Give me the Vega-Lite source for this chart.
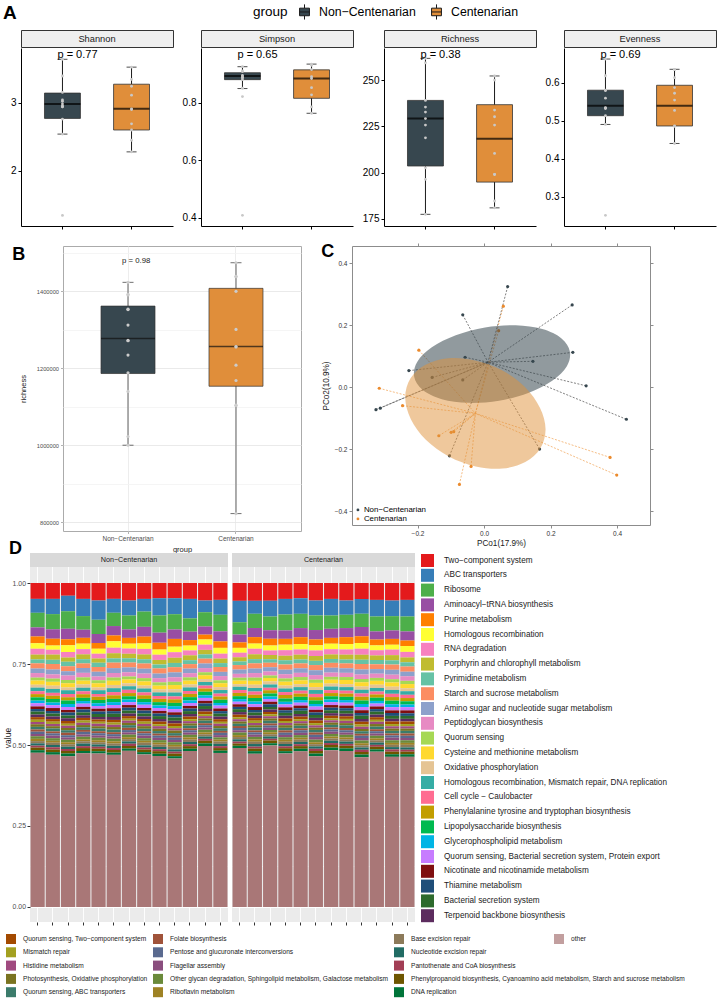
{
"$schema": "https://vega.github.io/schema/vega-lite/v6.json",
"background": "white",
"padding": {"left": 2, "top": 3, "right": 0, "bottom": 0},
"config": {"view": {"stroke": null}, "font": "Liberation Sans", "axis": {"labelFont": "Liberation Sans", "titleFont": "Liberation Sans"}, "legend": {"labelFont": "Liberation Sans", "titleFont": "Liberation Sans", "padding": 0}, "title": {"font": "Liberation Sans"}},
"datasets": {
"boxA": [
{"m":"Shannon","g":"Non−Centenarian","lo":2.54,"q1":2.77,"md":2.98,"q3":3.14,"hi":3.635},
{"m":"Shannon","g":"Centenarian","lo":2.28,"q1":2.6,"md":2.91,"q3":3.27,"hi":3.52},
{"m":"Simpson","g":"Non−Centenarian","lo":0.849,"q1":0.88,"md":0.893,"q3":0.904,"hi":0.925},
{"m":"Simpson","g":"Centenarian","lo":0.763,"q1":0.815,"md":0.884,"q3":0.914,"hi":0.934},
{"m":"Richness","g":"Non−Centenarian","lo":177.5,"q1":203.6,"md":229.2,"q3":239,"hi":261.7},
{"m":"Richness","g":"Centenarian","lo":181,"q1":194.9,"md":218.3,"q3":236.7,"hi":252.2},
{"m":"Evenness","g":"Non−Centenarian","lo":0.49,"q1":0.513,"md":0.539,"q3":0.58,"hi":0.662},
{"m":"Evenness","g":"Centenarian","lo":0.44,"q1":0.486,"md":0.539,"q3":0.593,"hi":0.635}
],
"ptsA": [
{"m":"Shannon","g":"Non−Centenarian","v":3.635},{"m":"Shannon","g":"Non−Centenarian","v":3.39},{"m":"Shannon","g":"Non−Centenarian","v":3.15},{"m":"Shannon","g":"Non−Centenarian","v":3.04},{"m":"Shannon","g":"Non−Centenarian","v":3.02},{"m":"Shannon","g":"Non−Centenarian","v":2.94},{"m":"Shannon","g":"Non−Centenarian","v":2.94},{"m":"Shannon","g":"Non−Centenarian","v":2.95},{"m":"Shannon","g":"Non−Centenarian","v":2.76},{"m":"Shannon","g":"Non−Centenarian","v":2.54},{"m":"Shannon","g":"Non−Centenarian","v":1.35},{"m":"Shannon","g":"Non−Centenarian","v":2.98},
{"m":"Shannon","g":"Centenarian","v":3.52},{"m":"Shannon","g":"Centenarian","v":3.34},{"m":"Shannon","g":"Centenarian","v":3.24},{"m":"Shannon","g":"Centenarian","v":3.11},{"m":"Shannon","g":"Centenarian","v":2.91},{"m":"Shannon","g":"Centenarian","v":2.9},{"m":"Shannon","g":"Centenarian","v":2.69},{"m":"Shannon","g":"Centenarian","v":2.6},{"m":"Shannon","g":"Centenarian","v":2.45},{"m":"Shannon","g":"Centenarian","v":2.28},
{"m":"Simpson","g":"Non−Centenarian","v":0.925},{"m":"Simpson","g":"Non−Centenarian","v":0.91},{"m":"Simpson","g":"Non−Centenarian","v":0.908},{"m":"Simpson","g":"Non−Centenarian","v":0.895},{"m":"Simpson","g":"Non−Centenarian","v":0.89},{"m":"Simpson","g":"Non−Centenarian","v":0.888},{"m":"Simpson","g":"Non−Centenarian","v":0.886},{"m":"Simpson","g":"Non−Centenarian","v":0.88},{"m":"Simpson","g":"Non−Centenarian","v":0.85},{"m":"Simpson","g":"Non−Centenarian","v":0.821},{"m":"Simpson","g":"Non−Centenarian","v":0.408},
{"m":"Simpson","g":"Centenarian","v":0.934},{"m":"Simpson","g":"Centenarian","v":0.93},{"m":"Simpson","g":"Centenarian","v":0.915},{"m":"Simpson","g":"Centenarian","v":0.89},{"m":"Simpson","g":"Centenarian","v":0.884},{"m":"Simpson","g":"Centenarian","v":0.852},{"m":"Simpson","g":"Centenarian","v":0.827},{"m":"Simpson","g":"Centenarian","v":0.785},{"m":"Simpson","g":"Centenarian","v":0.763},
{"m":"Richness","g":"Non−Centenarian","v":261.7},{"m":"Richness","g":"Non−Centenarian","v":259.3},{"m":"Richness","g":"Non−Centenarian","v":239},{"m":"Richness","g":"Non−Centenarian","v":235.4},{"m":"Richness","g":"Non−Centenarian","v":232.7},{"m":"Richness","g":"Non−Centenarian","v":229.2},{"m":"Richness","g":"Non−Centenarian","v":225.7},{"m":"Richness","g":"Non−Centenarian","v":218.8},{"m":"Richness","g":"Non−Centenarian","v":202.6},{"m":"Richness","g":"Non−Centenarian","v":196.4},{"m":"Richness","g":"Non−Centenarian","v":177.5},
{"m":"Richness","g":"Centenarian","v":252.2},{"m":"Richness","g":"Centenarian","v":250},{"m":"Richness","g":"Centenarian","v":233.8},{"m":"Richness","g":"Centenarian","v":230.2},{"m":"Richness","g":"Centenarian","v":225.7},{"m":"Richness","g":"Centenarian","v":210.4},{"m":"Richness","g":"Centenarian","v":199.1},{"m":"Richness","g":"Centenarian","v":199},{"m":"Richness","g":"Centenarian","v":184.7},{"m":"Richness","g":"Centenarian","v":181},
{"m":"Evenness","g":"Non−Centenarian","v":0.662},{"m":"Evenness","g":"Non−Centenarian","v":0.618},{"m":"Evenness","g":"Non−Centenarian","v":0.58},{"m":"Evenness","g":"Non−Centenarian","v":0.579},{"m":"Evenness","g":"Non−Centenarian","v":0.559},{"m":"Evenness","g":"Non−Centenarian","v":0.533},{"m":"Evenness","g":"Non−Centenarian","v":0.534},{"m":"Evenness","g":"Non−Centenarian","v":0.532},{"m":"Evenness","g":"Non−Centenarian","v":0.513},{"m":"Evenness","g":"Non−Centenarian","v":0.49},{"m":"Evenness","g":"Non−Centenarian","v":0.251},
{"m":"Evenness","g":"Centenarian","v":0.635},{"m":"Evenness","g":"Centenarian","v":0.634},{"m":"Evenness","g":"Centenarian","v":0.613},{"m":"Evenness","g":"Centenarian","v":0.587},{"m":"Evenness","g":"Centenarian","v":0.572},{"m":"Evenness","g":"Centenarian","v":0.554},{"m":"Evenness","g":"Centenarian","v":0.527},{"m":"Evenness","g":"Centenarian","v":0.486},{"m":"Evenness","g":"Centenarian","v":0.485},{"m":"Evenness","g":"Centenarian","v":0.44}
],
"pA": [
{"m":"Shannon","g":"Non−Centenarian","y":3.7,"t":"p = 0.77"},
{"m":"Simpson","g":"Non−Centenarian","y":0.966,"t":"p = 0.65"},
{"m":"Richness","g":"Non−Centenarian","y":263.5,"t":"p = 0.38"},
{"m":"Evenness","g":"Non−Centenarian","y":0.672,"t":"p = 0.69"}
],
"boxB": [
{"g":"Non−Centenarian","lo":1000000,"q1":1186000,"md":1277000,"q3":1361000,"hi":1422600},
{"g":"Centenarian","lo":822600,"q1":1153000,"md":1256000,"q3":1407000,"hi":1473500}
],
"ptsB": [
{"g":"Non−Centenarian","v":1422600},{"g":"Non−Centenarian","v":1391400},{"g":"Non−Centenarian","v":1390000},{"g":"Non−Centenarian","v":1353000},{"g":"Non−Centenarian","v":1352000},{"g":"Non−Centenarian","v":1311700},{"g":"Non−Centenarian","v":1272000},{"g":"Non−Centenarian","v":1271000},{"g":"Non−Centenarian","v":1233800},{"g":"Non−Centenarian","v":1188000},{"g":"Non−Centenarian","v":1139500},{"g":"Non−Centenarian","v":1022600},{"g":"Non−Centenarian","v":1000000},
{"g":"Centenarian","v":1473500},{"g":"Centenarian","v":1438200},{"g":"Centenarian","v":1437000},{"g":"Centenarian","v":1399200},{"g":"Centenarian","v":1300500},{"g":"Centenarian","v":1256000},{"g":"Centenarian","v":1255000},{"g":"Centenarian","v":1207800},{"g":"Centenarian","v":1168000},{"g":"Centenarian","v":1104000},{"g":"Centenarian","v":1103000},{"g":"Centenarian","v":822600}
],
"pB": [{"g":"Non−Centenarian","y":1478000,"t":"p = 0.98"}],
"pcoa": [
{"g":"Non−Centenarian","x":-0.064,"y":0.234,"cx":0.012,"cy":0.081},
{"g":"Non−Centenarian","x":-0.057,"y":0.097,"cx":0.012,"cy":0.081},
{"g":"Non−Centenarian","x":-0.226,"y":0.054,"cx":0.012,"cy":0.081},
{"g":"Non−Centenarian","x":-0.156,"y":0.032,"cx":0.012,"cy":0.081},
{"g":"Non−Centenarian","x":-0.064,"y":0.024,"cx":0.012,"cy":0.081},
{"g":"Non−Centenarian","x":0.071,"y":0.325,"cx":0.012,"cy":0.081},
{"g":"Non−Centenarian","x":0.265,"y":0.266,"cx":0.012,"cy":0.081},
{"g":"Non−Centenarian","x":0.267,"y":0.113,"cx":0.012,"cy":0.081},
{"g":"Non−Centenarian","x":0.147,"y":0.084,"cx":0.012,"cy":0.081},
{"g":"Non−Centenarian","x":0.307,"y":0.005,"cx":0.012,"cy":0.081},
{"g":"Non−Centenarian","x":-0.325,"y":-0.072,"cx":0.012,"cy":0.081},
{"g":"Non−Centenarian","x":-0.312,"y":-0.067,"cx":0.012,"cy":0.081},
{"g":"Non−Centenarian","x":0.428,"y":-0.103,"cx":0.012,"cy":0.081},
{"g":"Non−Centenarian","x":0.167,"y":-0.199,"cx":0.012,"cy":0.081},
{"g":"Non−Centenarian","x":-0.104,"y":-0.221,"cx":0.012,"cy":0.081},
{"g":"Centenarian","x":0.058,"y":0.262,"cx":-0.026,"cy":-0.084},
{"g":"Centenarian","x":0.044,"y":0.183,"cx":-0.026,"cy":-0.084},
{"g":"Centenarian","x":-0.196,"y":0.12,"cx":-0.026,"cy":-0.084},
{"g":"Centenarian","x":-0.315,"y":-0.003,"cx":-0.026,"cy":-0.084},
{"g":"Centenarian","x":-0.245,"y":-0.059,"cx":-0.026,"cy":-0.084},
{"g":"Centenarian","x":-0.136,"y":-0.156,"cx":-0.026,"cy":-0.084},
{"g":"Centenarian","x":-0.099,"y":-0.145,"cx":-0.026,"cy":-0.084},
{"g":"Centenarian","x":-0.091,"y":-0.143,"cx":-0.026,"cy":-0.084},
{"g":"Centenarian","x":-0.039,"y":-0.255,"cx":-0.026,"cy":-0.084},
{"g":"Centenarian","x":-0.074,"y":-0.313,"cx":-0.026,"cy":-0.084},
{"g":"Centenarian","x":0.379,"y":-0.226,"cx":-0.026,"cy":-0.084},
{"g":"Centenarian","x":0.399,"y":-0.283,"cx":-0.026,"cy":-0.084}
],
"ell": [
{"g":"Non−Centenarian","i":1,"x":0.258,"y":0.116},{"g":"Non−Centenarian","i":2,"x":0.233,"y":0.158},{"g":"Non−Centenarian","i":3,"x":0.175,"y":0.188},{"g":"Non−Centenarian","i":4,"x":0.095,"y":0.2},{"g":"Non−Centenarian","i":5,"x":0.003,"y":0.193},{"g":"Non−Centenarian","i":6,"x":-0.085,"y":0.168},{"g":"Non−Centenarian","i":7,"x":-0.157,"y":0.129},{"g":"Non−Centenarian","i":8,"x":-0.201,"y":0.082},{"g":"Non−Centenarian","i":9,"x":-0.21,"y":0.034},{"g":"Non−Centenarian","i":10,"x":-0.185,"y":-0.008},{"g":"Non−Centenarian","i":11,"x":-0.127,"y":-0.038},{"g":"Non−Centenarian","i":12,"x":-0.047,"y":-0.05},{"g":"Non−Centenarian","i":13,"x":0.045,"y":-0.043},{"g":"Non−Centenarian","i":14,"x":0.133,"y":-0.018},{"g":"Non−Centenarian","i":15,"x":0.205,"y":0.021},{"g":"Non−Centenarian","i":16,"x":0.249,"y":0.068},
{"g":"Centenarian","i":1,"x":0.169,"y":-0.197},{"g":"Centenarian","i":2,"x":0.185,"y":-0.135},{"g":"Centenarian","i":3,"x":0.168,"y":-0.066},{"g":"Centenarian","i":4,"x":0.123,"y":0.001},{"g":"Centenarian","i":5,"x":0.054,"y":0.055},{"g":"Centenarian","i":6,"x":-0.027,"y":0.087},{"g":"Centenarian","i":7,"x":-0.107,"y":0.094},{"g":"Centenarian","i":8,"x":-0.176,"y":0.073},{"g":"Centenarian","i":9,"x":-0.221,"y":0.029},{"g":"Centenarian","i":10,"x":-0.237,"y":-0.033},{"g":"Centenarian","i":11,"x":-0.22,"y":-0.103},{"g":"Centenarian","i":12,"x":-0.175,"y":-0.169},{"g":"Centenarian","i":13,"x":-0.106,"y":-0.223},{"g":"Centenarian","i":14,"x":-0.025,"y":-0.255},{"g":"Centenarian","i":15,"x":0.055,"y":-0.262},{"g":"Centenarian","i":16,"x":0.124,"y":-0.241}
],
"cats": [
{"k":1,"name":"Two−component system"},{"k":2,"name":"ABC transporters"},{"k":3,"name":"Ribosome"},{"k":4,"name":"Aminoacyl−tRNA biosynthesis"},{"k":5,"name":"Purine metabolism"},{"k":6,"name":"Homologous recombination"},{"k":7,"name":"RNA degradation"},{"k":8,"name":"Porphyrin and chlorophyll metabolism"},{"k":9,"name":"Pyrimidine metabolism"},{"k":10,"name":"Starch and sucrose metabolism"},{"k":11,"name":"Amino sugar and nucleotide sugar metabolism"},{"k":12,"name":"Peptidoglycan biosynthesis"},{"k":13,"name":"Quorum sensing"},{"k":14,"name":"Cysteine and methionine metabolism"},{"k":15,"name":"Oxidative phosphorylation"},{"k":16,"name":"Homologous recombination, Mismatch repair, DNA replication"},{"k":17,"name":"Cell cycle − Caulobacter"},{"k":18,"name":"Phenylalanine tyrosine and tryptophan biosynthesis"},{"k":19,"name":"Lipopolysaccharide biosynthesis"},{"k":20,"name":"Glycerophospholipid metabolism"},{"k":21,"name":"Quorum sensing, Bacterial secretion system, Protein export"},{"k":22,"name":"Nicotinate and nicotinamide metabolism"},{"k":23,"name":"Thiamine metabolism"},{"k":24,"name":"Bacterial secretion system"},{"k":25,"name":"Terpenoid backbone biosynthesis"},{"k":26,"name":"Quorum sensing, Two−component system"},{"k":27,"name":"Mismatch repair"},{"k":28,"name":"Histidine metabolism"},{"k":29,"name":"Photosynthesis, Oxidative phosphorylation"},{"k":30,"name":"Quorum sensing, ABC transporters"},{"k":31,"name":"Folate biosynthesis"},{"k":32,"name":"Pentose and glucuronate interconversions"},{"k":33,"name":"Flagellar assembly"},{"k":34,"name":"Other glycan degradation, Sphingolipid metabolism, Galactose metabolism"},{"k":35,"name":"Riboflavin metabolism"},{"k":36,"name":"Base excision repair"},{"k":37,"name":"Nucleotide excision repair"},{"k":38,"name":"Pantothenate and CoA biosynthesis"},{"k":39,"name":"Phenylpropanoid biosynthesis, Cyanoamino acid metabolism, Starch and sucrose metabolism"},{"k":40,"name":"DNA replication"},{"k":41,"name":"other"}
],
"dbars": [
{"s":"N01","group":"Non−Centenarian","v":[49,43,45,28,21,17,18,15,12,16,14,14,9,13,9,11,9,10,10,8,10,8,8,9,8,8,7,7,8,8,7,7,7,8,7,7,7,6,8,8,476]},
{"s":"N02","group":"Non−Centenarian","v":[49,47,47,29,21,13,15,16,13,17,15,13,10,12,10,12,9,10,11,8,9,9,8,9,8,8,7,7,7,9,6,7,8,8,6,7,7,7,8,8,470]},
{"s":"N03","group":"Non−Centenarian","v":[39,48,54,33,18,21,17,13,14,16,13,14,10,13,8,12,10,10,11,9,9,8,9,9,8,9,6,7,7,8,7,7,7,8,6,8,7,6,8,8,466]},
{"s":"N04","group":"Non−Centenarian","v":[49,53,42,25,18,17,16,15,13,14,15,14,10,12,10,11,9,11,10,8,10,8,9,9,8,8,7,7,7,8,6,8,7,8,6,7,8,6,9,7,474]},
{"s":"N05","group":"Non−Centenarian","v":[54,59,44,28,18,15,15,13,13,15,14,12,9,13,9,11,9,10,10,8,9,8,8,9,8,7,6,8,7,8,6,7,7,8,6,7,7,6,8,7,473]},
{"s":"N06","group":"Non−Centenarian","v":[49,43,41,29,18,20,17,16,13,17,15,14,10,13,10,12,10,11,10,9,10,9,8,10,9,8,7,7,8,8,6,7,7,8,7,7,7,6,8,7,470]},
{"s":"N07","group":"Non−Centenarian","v":[54,46,43,26,18,15,16,14,13,15,15,13,9,12,9,11,10,10,10,8,9,8,9,9,8,8,6,7,7,8,7,7,7,8,6,7,7,7,8,7,481]},
{"s":"N08","group":"Non−Centenarian","v":[49,39,47,30,21,17,17,15,13,16,15,14,10,13,9,12,9,11,10,8,10,8,9,9,8,8,7,7,8,8,6,7,8,8,6,8,7,6,8,7,470]},
{"s":"N09","group":"Non−Centenarian","v":[47,53,53,31,21,16,16,14,12,16,14,13,10,12,9,11,9,10,10,8,9,8,8,9,8,8,6,8,7,8,6,7,7,8,6,7,7,6,8,7,465]},
{"s":"N10","group":"Non−Centenarian","v":[47,49,47,29,24,17,17,16,13,16,15,14,10,13,10,12,9,11,10,9,10,8,8,10,8,8,7,7,8,8,6,7,7,8,6,8,7,6,8,7,457]},
{"s":"N11","group":"Non−Centenarian","v":[49,60,41,26,17,15,15,15,12,14,14,13,10,12,9,11,9,10,10,8,9,8,8,9,8,8,6,7,7,8,6,7,7,8,7,7,7,6,8,7,481]},
{"s":"N12","group":"Non−Centenarian","v":[54,36,44,25,15,16,16,14,13,15,14,13,9,12,9,11,9,10,11,8,9,8,8,9,8,8,6,7,7,8,6,7,7,8,6,7,7,6,8,8,496]},
{"s":"N13","group":"Non−Centenarian","v":[52,46,51,31,20,18,15,14,12,15,13,13,9,12,9,11,9,10,10,8,9,8,8,9,8,8,6,7,7,8,6,7,7,7,6,7,7,6,8,7,475]},
{"s":"C01","group":"Centenarian","v":[55,66,38,24,17,15,14,13,11,14,13,12,9,11,8,10,9,10,9,8,8,8,7,9,8,8,6,7,7,7,6,7,7,8,6,7,7,6,7,7,490]},
{"s":"C02","group":"Centenarian","v":[55,40,44,28,20,16,17,15,13,16,14,14,10,12,10,11,10,10,11,8,9,9,8,9,8,8,7,7,7,9,6,7,7,8,7,7,8,6,8,8,473]},
{"s":"C03","group":"Centenarian","v":[55,48,43,26,21,15,14,13,11,14,13,12,8,11,9,10,8,10,9,8,8,8,8,8,8,7,6,7,7,8,6,7,7,7,6,7,7,6,8,7,498]},
{"s":"C04","group":"Centenarian","v":[49,48,49,26,18,17,17,14,13,16,14,13,10,12,9,11,9,11,10,8,9,9,8,9,8,8,6,7,8,8,7,7,7,8,6,7,7,6,9,7,473]},
{"s":"C05","group":"Centenarian","v":[47,48,44,28,21,17,16,15,12,15,14,13,10,12,9,11,9,10,10,8,9,8,8,10,8,8,6,7,7,8,6,8,7,8,6,7,7,6,8,8,480]},
{"s":"C06","group":"Centenarian","v":[54,46,45,29,18,16,17,15,13,16,15,14,10,13,9,12,10,10,11,8,10,8,8,9,8,8,7,7,7,8,7,7,8,8,6,7,7,7,8,8,465]},
{"s":"C07","group":"Centenarian","v":[49,51,41,28,18,17,16,14,12,15,15,13,9,12,9,11,9,10,10,8,9,8,8,9,8,8,6,7,7,8,6,7,7,8,6,7,7,6,8,8,483]},
{"s":"C08","group":"Centenarian","v":[54,44,41,28,21,17,16,15,12,15,14,13,9,13,9,11,9,10,10,8,9,8,8,9,8,8,6,7,7,8,7,7,7,8,6,7,7,6,8,8,481]},
{"s":"C09","group":"Centenarian","v":[49,46,41,28,21,18,18,16,13,17,15,14,10,13,10,12,10,11,11,9,10,9,8,10,9,8,7,7,7,8,6,7,8,8,6,7,7,7,8,8,462]},
{"s":"C10","group":"Centenarian","v":[52,51,46,25,18,15,16,14,13,15,14,13,9,12,10,11,9,10,10,8,9,8,8,9,8,8,6,7,8,8,6,7,7,8,6,7,7,6,8,7,478]},
{"s":"C11","group":"Centenarian","v":[54,48,44,26,18,15,17,16,13,16,15,14,10,13,10,12,10,11,11,9,10,8,9,9,8,8,7,7,7,8,6,7,8,8,6,7,7,7,8,8,462]},
{"s":"C12","group":"Centenarian","v":[52,51,46,28,17,18,17,15,13,16,14,14,10,13,9,11,10,10,10,8,10,9,8,9,8,8,7,7,7,8,7,7,7,8,6,8,7,6,8,8,462]}
]
},
"title": {"text": "A", "anchor": "start", "fontSize": 19, "fontWeight": "bold", "color": "#000000", "offset": -20, "dx": 1},
"resolve": {"scale": {"color": "independent", "fill": "independent", "shape": "independent"}, "legend": {"color": "independent", "fill": "independent", "shape": "independent"}},
"spacing": 12,
"vconcat": [
{"spacing": 0, "hconcat": [
{"width": 8, "height": 1, "data": {"values": []}, "mark": {"type": "point", "opacity": 0}},
{
"spacing": 8,
"hconcat": [
{"spacing": 0, "vconcat": [
 {"width": 152, "height": 17, "view": {"fill": "#EFEFEF", "stroke": "#333333", "strokeWidth": 1}, "data": {"values": [{"t": "Shannon"}]}, "mark": {"type": "text", "fontSize": 9.3, "color": "#1A1A1A"}, "encoding": {"text": {"field": "t", "type": "nominal"}}},
 {"width": 152, "height": 178, "layer": [
  {"data": {"name": "boxA"}, "transform": [{"filter": "datum.m === 'Shannon'"}], "mark": {"type": "rule", "color": "#000000", "strokeWidth": 0.9},
   "encoding": {"x": {"field": "g", "type": "nominal", "scale": {"domain": ["Non−Centenarian", "Centenarian"], "paddingInner": 0, "paddingOuter": 0.1}, "axis": {"title": null, "labels": false, "ticks": true, "tickSize": 3, "tickColor": "#000000", "domainColor": "#000000", "grid": false}},
    "y": {"field": "lo", "type": "quantitative", "scale": {"domain": [1.195, 3.8], "nice": false, "zero": false}, "axis": {"title": null, "grid": false, "values": [2, 3], "format": "d", "tickSize": 3, "tickColor": "#000000", "domainColor": "#000000", "labelFontSize": 10, "labelColor": "#000000", "labelPadding": 2}},
    "y2": {"field": "hi"}}},
  {"data": {"name": "boxA"}, "transform": [{"filter": "datum.m === 'Shannon'"}], "mark": {"type": "tick", "color": "#000000", "size": 10, "thickness": 1}, "encoding": {"x": {"field": "g", "type": "nominal"}, "y": {"field": "hi", "type": "quantitative"}}},
  {"data": {"name": "boxA"}, "transform": [{"filter": "datum.m === 'Shannon'"}], "mark": {"type": "tick", "color": "#000000", "size": 10, "thickness": 1}, "encoding": {"x": {"field": "g", "type": "nominal"}, "y": {"field": "lo", "type": "quantitative"}}},
  {"data": {"name": "boxA"}, "transform": [{"filter": "datum.m === 'Shannon'"}], "mark": {"type": "bar", "width": {"band": 0.52}, "stroke": "#333333", "strokeWidth": 0.8},
   "encoding": {"x": {"field": "g", "type": "nominal"}, "y": {"field": "q1", "type": "quantitative"}, "y2": {"field": "q3"},
    "color": {"field": "g", "type": "nominal", "scale": {"domain": ["Non−Centenarian", "Centenarian"], "range": ["#37474F", "#E08E3A"]}, "legend": {"orient": "none", "legendX": 251, "legendY": -27, "direction": "horizontal", "title": "group", "titleOrient": "left", "titleFontSize": 13.5, "titleFontWeight": "normal", "titleColor": "#000000", "titlePadding": 8, "labelFontSize": 12.3, "labelColor": "#000000", "labelOffset": 6, "columnPadding": 12, "symbolType": "M-0.65,-0.5H0.65V0.5H-0.65Z M-0.65,0H0.65 M0,-0.5V-1 M0,0.5V1", "symbolSize": 230, "symbolStrokeColor": "#1A1A1A", "symbolStrokeWidth": 1}}}},
  {"data": {"name": "boxA"}, "transform": [{"filter": "datum.m === 'Shannon'"}], "mark": {"type": "tick", "color": "#000000", "size": 36, "thickness": 2}, "encoding": {"x": {"field": "g", "type": "nominal"}, "y": {"field": "md", "type": "quantitative"}}},
  {"data": {"name": "ptsA"}, "transform": [{"filter": "datum.m === 'Shannon'"}], "mark": {"type": "point", "filled": true, "color": "#C8C8C8", "size": 8, "opacity": 1}, "encoding": {"x": {"field": "g", "type": "nominal"}, "y": {"field": "v", "type": "quantitative"}}},
  {"data": {"name": "pA"}, "transform": [{"filter": "datum.m === 'Shannon'"}], "mark": {"type": "text", "align": "left", "dx": -5, "baseline": "middle", "fontSize": 11, "color": "#000000"}, "encoding": {"x": {"field": "g", "type": "nominal"}, "y": {"field": "y", "type": "quantitative"}, "text": {"field": "t", "type": "nominal"}}}
 ]}
]},
{"spacing": 0, "vconcat": [
 {"width": 152, "height": 17, "view": {"fill": "#EFEFEF", "stroke": "#333333", "strokeWidth": 1}, "data": {"values": [{"t": "Simpson"}]}, "mark": {"type": "text", "fontSize": 9.3, "color": "#1A1A1A"}, "encoding": {"text": {"field": "t", "type": "nominal"}}},
 {"width": 152, "height": 178, "layer": [
  {"data": {"name": "boxA"}, "transform": [{"filter": "datum.m === 'Simpson'"}], "mark": {"type": "rule", "color": "#000000", "strokeWidth": 0.9},
   "encoding": {"x": {"field": "g", "type": "nominal", "scale": {"domain": ["Non−Centenarian", "Centenarian"], "paddingInner": 0, "paddingOuter": 0.1}, "axis": {"title": null, "labels": false, "ticks": true, "tickSize": 3, "tickColor": "#000000", "domainColor": "#000000", "grid": false}},
    "y": {"field": "lo", "type": "quantitative", "scale": {"domain": [0.371, 0.99], "nice": false, "zero": false}, "axis": {"title": null, "grid": false, "values": [0.4, 0.6, 0.8], "format": ".1f", "tickSize": 3, "tickColor": "#000000", "domainColor": "#000000", "labelFontSize": 10, "labelColor": "#000000", "labelPadding": 2}},
    "y2": {"field": "hi"}}},
  {"data": {"name": "boxA"}, "transform": [{"filter": "datum.m === 'Simpson'"}], "mark": {"type": "tick", "color": "#000000", "size": 10, "thickness": 1}, "encoding": {"x": {"field": "g", "type": "nominal"}, "y": {"field": "hi", "type": "quantitative"}}},
  {"data": {"name": "boxA"}, "transform": [{"filter": "datum.m === 'Simpson'"}], "mark": {"type": "tick", "color": "#000000", "size": 10, "thickness": 1}, "encoding": {"x": {"field": "g", "type": "nominal"}, "y": {"field": "lo", "type": "quantitative"}}},
  {"data": {"name": "boxA"}, "transform": [{"filter": "datum.m === 'Simpson'"}], "mark": {"type": "bar", "width": {"band": 0.52}, "stroke": "#333333", "strokeWidth": 0.8},
   "encoding": {"x": {"field": "g", "type": "nominal"}, "y": {"field": "q1", "type": "quantitative"}, "y2": {"field": "q3"},
    "color": {"field": "g", "type": "nominal", "scale": {"domain": ["Non−Centenarian", "Centenarian"], "range": ["#37474F", "#E08E3A"]}, "legend": {"orient": "none", "legendX": 251, "legendY": -27, "direction": "horizontal", "title": "group", "titleOrient": "left", "titleFontSize": 13.5, "titleFontWeight": "normal", "titleColor": "#000000", "titlePadding": 8, "labelFontSize": 12.3, "labelColor": "#000000", "labelOffset": 6, "columnPadding": 12, "symbolType": "M-0.65,-0.5H0.65V0.5H-0.65Z M-0.65,0H0.65 M0,-0.5V-1 M0,0.5V1", "symbolSize": 230, "symbolStrokeColor": "#1A1A1A", "symbolStrokeWidth": 1}}}},
  {"data": {"name": "boxA"}, "transform": [{"filter": "datum.m === 'Simpson'"}], "mark": {"type": "tick", "color": "#000000", "size": 36, "thickness": 2}, "encoding": {"x": {"field": "g", "type": "nominal"}, "y": {"field": "md", "type": "quantitative"}}},
  {"data": {"name": "ptsA"}, "transform": [{"filter": "datum.m === 'Simpson'"}], "mark": {"type": "point", "filled": true, "color": "#C8C8C8", "size": 8, "opacity": 1}, "encoding": {"x": {"field": "g", "type": "nominal"}, "y": {"field": "v", "type": "quantitative"}}},
  {"data": {"name": "pA"}, "transform": [{"filter": "datum.m === 'Simpson'"}], "mark": {"type": "text", "align": "left", "dx": -5, "baseline": "middle", "fontSize": 11, "color": "#000000"}, "encoding": {"x": {"field": "g", "type": "nominal"}, "y": {"field": "y", "type": "quantitative"}, "text": {"field": "t", "type": "nominal"}}}
 ]}
]},
{"spacing": 0, "vconcat": [
 {"width": 152, "height": 17, "view": {"fill": "#EFEFEF", "stroke": "#333333", "strokeWidth": 1}, "data": {"values": [{"t": "Richness"}]}, "mark": {"type": "text", "fontSize": 9.3, "color": "#1A1A1A"}, "encoding": {"text": {"field": "t", "type": "nominal"}}},
 {"width": 152, "height": 178, "layer": [
  {"data": {"name": "boxA"}, "transform": [{"filter": "datum.m === 'Richness'"}], "mark": {"type": "rule", "color": "#000000", "strokeWidth": 0.9},
   "encoding": {"x": {"field": "g", "type": "nominal", "scale": {"domain": ["Non−Centenarian", "Centenarian"], "paddingInner": 0, "paddingOuter": 0.1}, "axis": {"title": null, "labels": false, "ticks": true, "tickSize": 3, "tickColor": "#000000", "domainColor": "#000000", "grid": false}},
    "y": {"field": "lo", "type": "quantitative", "scale": {"domain": [171.2, 267.3], "nice": false, "zero": false}, "axis": {"title": null, "grid": false, "values": [175, 200, 225, 250], "format": "d", "tickSize": 3, "tickColor": "#000000", "domainColor": "#000000", "labelFontSize": 10, "labelColor": "#000000", "labelPadding": 2}},
    "y2": {"field": "hi"}}},
  {"data": {"name": "boxA"}, "transform": [{"filter": "datum.m === 'Richness'"}], "mark": {"type": "tick", "color": "#000000", "size": 10, "thickness": 1}, "encoding": {"x": {"field": "g", "type": "nominal"}, "y": {"field": "hi", "type": "quantitative"}}},
  {"data": {"name": "boxA"}, "transform": [{"filter": "datum.m === 'Richness'"}], "mark": {"type": "tick", "color": "#000000", "size": 10, "thickness": 1}, "encoding": {"x": {"field": "g", "type": "nominal"}, "y": {"field": "lo", "type": "quantitative"}}},
  {"data": {"name": "boxA"}, "transform": [{"filter": "datum.m === 'Richness'"}], "mark": {"type": "bar", "width": {"band": 0.52}, "stroke": "#333333", "strokeWidth": 0.8},
   "encoding": {"x": {"field": "g", "type": "nominal"}, "y": {"field": "q1", "type": "quantitative"}, "y2": {"field": "q3"},
    "color": {"field": "g", "type": "nominal", "scale": {"domain": ["Non−Centenarian", "Centenarian"], "range": ["#37474F", "#E08E3A"]}, "legend": {"orient": "none", "legendX": 251, "legendY": -27, "direction": "horizontal", "title": "group", "titleOrient": "left", "titleFontSize": 13.5, "titleFontWeight": "normal", "titleColor": "#000000", "titlePadding": 8, "labelFontSize": 12.3, "labelColor": "#000000", "labelOffset": 6, "columnPadding": 12, "symbolType": "M-0.65,-0.5H0.65V0.5H-0.65Z M-0.65,0H0.65 M0,-0.5V-1 M0,0.5V1", "symbolSize": 230, "symbolStrokeColor": "#1A1A1A", "symbolStrokeWidth": 1}}}},
  {"data": {"name": "boxA"}, "transform": [{"filter": "datum.m === 'Richness'"}], "mark": {"type": "tick", "color": "#000000", "size": 36, "thickness": 2}, "encoding": {"x": {"field": "g", "type": "nominal"}, "y": {"field": "md", "type": "quantitative"}}},
  {"data": {"name": "ptsA"}, "transform": [{"filter": "datum.m === 'Richness'"}], "mark": {"type": "point", "filled": true, "color": "#C8C8C8", "size": 8, "opacity": 1}, "encoding": {"x": {"field": "g", "type": "nominal"}, "y": {"field": "v", "type": "quantitative"}}},
  {"data": {"name": "pA"}, "transform": [{"filter": "datum.m === 'Richness'"}], "mark": {"type": "text", "align": "left", "dx": -5, "baseline": "middle", "fontSize": 11, "color": "#000000"}, "encoding": {"x": {"field": "g", "type": "nominal"}, "y": {"field": "y", "type": "quantitative"}, "text": {"field": "t", "type": "nominal"}}}
 ]}
]},
{"spacing": 0, "vconcat": [
 {"width": 152, "height": 17, "view": {"fill": "#EFEFEF", "stroke": "#333333", "strokeWidth": 1}, "data": {"values": [{"t": "Evenness"}]}, "mark": {"type": "text", "fontSize": 9.3, "color": "#1A1A1A"}, "encoding": {"text": {"field": "t", "type": "nominal"}}},
 {"width": 152, "height": 178, "layer": [
  {"data": {"name": "boxA"}, "transform": [{"filter": "datum.m === 'Evenness'"}], "mark": {"type": "rule", "color": "#000000", "strokeWidth": 0.9},
   "encoding": {"x": {"field": "g", "type": "nominal", "scale": {"domain": ["Non−Centenarian", "Centenarian"], "paddingInner": 0, "paddingOuter": 0.1}, "axis": {"title": null, "labels": false, "ticks": true, "tickSize": 3, "tickColor": "#000000", "domainColor": "#000000", "grid": false}},
    "y": {"field": "lo", "type": "quantitative", "scale": {"domain": [0.223, 0.691], "nice": false, "zero": false}, "axis": {"title": null, "grid": false, "values": [0.3, 0.4, 0.5, 0.6], "format": ".1f", "tickSize": 3, "tickColor": "#000000", "domainColor": "#000000", "labelFontSize": 10, "labelColor": "#000000", "labelPadding": 2}},
    "y2": {"field": "hi"}}},
  {"data": {"name": "boxA"}, "transform": [{"filter": "datum.m === 'Evenness'"}], "mark": {"type": "tick", "color": "#000000", "size": 10, "thickness": 1}, "encoding": {"x": {"field": "g", "type": "nominal"}, "y": {"field": "hi", "type": "quantitative"}}},
  {"data": {"name": "boxA"}, "transform": [{"filter": "datum.m === 'Evenness'"}], "mark": {"type": "tick", "color": "#000000", "size": 10, "thickness": 1}, "encoding": {"x": {"field": "g", "type": "nominal"}, "y": {"field": "lo", "type": "quantitative"}}},
  {"data": {"name": "boxA"}, "transform": [{"filter": "datum.m === 'Evenness'"}], "mark": {"type": "bar", "width": {"band": 0.52}, "stroke": "#333333", "strokeWidth": 0.8},
   "encoding": {"x": {"field": "g", "type": "nominal"}, "y": {"field": "q1", "type": "quantitative"}, "y2": {"field": "q3"},
    "color": {"field": "g", "type": "nominal", "scale": {"domain": ["Non−Centenarian", "Centenarian"], "range": ["#37474F", "#E08E3A"]}, "legend": {"orient": "none", "legendX": 251, "legendY": -27, "direction": "horizontal", "title": "group", "titleOrient": "left", "titleFontSize": 13.5, "titleFontWeight": "normal", "titleColor": "#000000", "titlePadding": 8, "labelFontSize": 12.3, "labelColor": "#000000", "labelOffset": 6, "columnPadding": 12, "symbolType": "M-0.65,-0.5H0.65V0.5H-0.65Z M-0.65,0H0.65 M0,-0.5V-1 M0,0.5V1", "symbolSize": 230, "symbolStrokeColor": "#1A1A1A", "symbolStrokeWidth": 1}}}},
  {"data": {"name": "boxA"}, "transform": [{"filter": "datum.m === 'Evenness'"}], "mark": {"type": "tick", "color": "#000000", "size": 36, "thickness": 2}, "encoding": {"x": {"field": "g", "type": "nominal"}, "y": {"field": "md", "type": "quantitative"}}},
  {"data": {"name": "ptsA"}, "transform": [{"filter": "datum.m === 'Evenness'"}], "mark": {"type": "point", "filled": true, "color": "#C8C8C8", "size": 8, "opacity": 1}, "encoding": {"x": {"field": "g", "type": "nominal"}, "y": {"field": "v", "type": "quantitative"}}},
  {"data": {"name": "pA"}, "transform": [{"filter": "datum.m === 'Evenness'"}], "mark": {"type": "text", "align": "left", "dx": -5, "baseline": "middle", "fontSize": 11, "color": "#000000"}, "encoding": {"x": {"field": "g", "type": "nominal"}, "y": {"field": "y", "type": "quantitative"}, "text": {"field": "t", "type": "nominal"}}}
 ]}
]}
]
}
]},
{
"spacing": -13,
"resolve": {"scale": {"color": "independent", "fill": "independent", "shape": "independent"}, "legend": {"color": "independent", "fill": "independent", "shape": "independent"}},
"vconcat": [
{"spacing": 0, "hconcat": [
{"width": 9, "height": 1, "data": {"values": []}, "mark": {"type": "point", "opacity": 0}},
{
"spacing": 18,
"resolve": {"scale": {"color": "independent"}, "legend": {"color": "independent"}},
"hconcat": [
{
 "title": {"text": "B", "anchor": "start", "fontSize": 18, "fontWeight": "bold", "color": "#000000", "offset": -18, "dx": -7},
 "width": 238, "height": 285,
 "view": {"stroke": "#ABABAB", "strokeWidth": 1},
 "layer": [
  {"data": {"name": "boxB"}, "mark": {"type": "rule", "color": "#8C8C8C", "strokeWidth": 1.4},
   "encoding": {"x": {"field": "g", "type": "nominal", "scale": {"domain": ["Non−Centenarian", "Centenarian"], "paddingInner": 0, "paddingOuter": 0.102}, "axis": {"title": "group", "titleFontSize": 7.5, "titleFontWeight": "normal", "titleColor": "#1A1A1A", "titlePadding": 3, "labelFontSize": 6.5, "labelColor": "#4D4D4D", "labelAngle": 0, "labelPadding": 2, "tickSize": 2.5, "tickColor": "#B3B3B3", "domain": false, "grid": true, "gridColor": "#E8E8E8", "gridWidth": 0.8}},
    "y": {"field": "lo", "type": "quantitative", "scale": {"domain": [777400, 1516900], "nice": false, "zero": false}, "axis": {"title": "richness", "titleFontSize": 7.5, "titleFontWeight": "normal", "titleColor": "#1A1A1A", "titlePadding": 9, "labelFontSize": 5.7, "labelColor": "#4D4D4D", "labelPadding": 2, "values": [800000, 900000, 1000000, 1100000, 1200000, 1300000, 1400000, 1500000], "format": "d", "labelExpr": "datum.value % 200000 === 0 ? datum.label : ''", "tickSize": 2.5, "tickColor": "#B3B3B3", "tickOpacity": {"condition": {"test": "datum.value % 200000 === 0", "value": 1}, "value": 0}, "domain": false, "grid": true, "gridColor": {"condition": {"test": "datum.value % 200000 === 0", "value": "#E4E4E4"}, "value": "#F2F2F2"}, "gridWidth": 0.8}},
    "y2": {"field": "hi"}}},
  {"data": {"name": "boxB"}, "mark": {"type": "tick", "color": "#333333", "size": 11, "thickness": 1}, "encoding": {"x": {"field": "g", "type": "nominal"}, "y": {"field": "hi", "type": "quantitative"}}},
  {"data": {"name": "boxB"}, "mark": {"type": "tick", "color": "#333333", "size": 11, "thickness": 1}, "encoding": {"x": {"field": "g", "type": "nominal"}, "y": {"field": "lo", "type": "quantitative"}}},
  {"data": {"name": "boxB"}, "mark": {"type": "bar", "width": {"band": 0.5}, "stroke": "#333333", "strokeWidth": 0.7},
   "encoding": {"x": {"field": "g", "type": "nominal"}, "y": {"field": "q1", "type": "quantitative"}, "y2": {"field": "q3"}, "color": {"field": "g", "type": "nominal", "scale": {"domain": ["Non−Centenarian", "Centenarian"], "range": ["#37474F", "#E08E3A"]}, "legend": null}}},
  {"data": {"name": "boxB"}, "mark": {"type": "tick", "color": "#111111", "size": 54, "thickness": 1.5}, "encoding": {"x": {"field": "g", "type": "nominal"}, "y": {"field": "md", "type": "quantitative"}}},
  {"data": {"name": "ptsB"}, "mark": {"type": "point", "filled": true, "color": "#CCCCCC", "size": 10, "opacity": 1}, "encoding": {"x": {"field": "g", "type": "nominal"}, "y": {"field": "v", "type": "quantitative"}}},
  {"data": {"name": "pB"}, "mark": {"type": "text", "align": "left", "dx": -6, "baseline": "middle", "fontSize": 7.8, "color": "#1A1A1A"}, "encoding": {"x": {"field": "g", "type": "nominal"}, "y": {"field": "y", "type": "quantitative"}, "text": {"field": "t", "type": "nominal"}}}
 ]
},
{
 "title": {"text": "C", "anchor": "start", "fontSize": 18, "fontWeight": "bold", "color": "#000000", "offset": -18},
 "width": 298, "height": 279,
 "view": {"stroke": "#8C8C8C", "strokeWidth": 1},
 "resolve": {"axis": {"x": "independent", "y": "independent"}},
 "layer": [
  {"mark": {"type": "rule", "color": "#555555", "strokeWidth": 0.6, "strokeDash": [3, 2]},
   "encoding": {"x": {"datum": 0, "type": "quantitative", "scale": {"domain": [-0.397, 0.499], "nice": false, "zero": false}, "axis": {"orient": "top", "labels": false, "title": null, "values": [-0.2, 0, 0.2, 0.4], "tickSize": 3, "tickColor": "#8C8C8C", "domain": false, "grid": false}}}},
  {"mark": {"type": "rule", "color": "#555555", "strokeWidth": 0.6, "strokeDash": [3, 2]},
   "encoding": {"y": {"datum": 0, "type": "quantitative", "scale": {"domain": [-0.444, 0.456], "nice": false, "zero": false}, "axis": {"orient": "right", "labels": false, "title": null, "values": [-0.4, -0.2, 0, 0.2, 0.4], "tickSize": 3, "tickColor": "#8C8C8C", "domain": false, "grid": false}}}},
  {"data": {"name": "pcoa"}, "mark": {"type": "rule", "strokeWidth": 0.7, "strokeDash": [2, 1.5]},
   "encoding": {"x": {"field": "x", "type": "quantitative", "axis": null}, "y": {"field": "y", "type": "quantitative", "axis": null}, "x2": {"field": "cx"}, "y2": {"field": "cy"},
    "stroke": {"field": "g", "type": "nominal", "scale": {"domain": ["Non−Centenarian", "Centenarian"], "range": ["#4A4A4A", "#F0A050"]}, "legend": null}}},
  {"data": {"name": "pcoa"}, "mark": {"type": "point", "filled": true, "size": 10, "opacity": 1},
   "encoding": {"x": {"field": "x", "type": "quantitative", "axis": {"orient": "bottom", "title": "PCo1(17.9%)", "titleFontSize": 8.2, "titleFontWeight": "normal", "titleColor": "#1A1A1A", "titlePadding": 3, "values": [-0.2, 0, 0.2, 0.4], "format": ".1f", "labelFontSize": 6.5, "labelColor": "#333333", "labelPadding": 2, "tickSize": 3, "tickColor": "#8C8C8C", "domain": false, "grid": false}},
    "y": {"field": "y", "type": "quantitative", "axis": {"orient": "left", "title": "PCo2(10.9%)", "titleFontSize": 8.2, "titleFontWeight": "normal", "titleColor": "#1A1A1A", "titlePadding": 4, "values": [-0.4, -0.2, 0, 0.2, 0.4], "format": ".1f", "labelFontSize": 6.5, "labelColor": "#333333", "labelPadding": 2, "tickSize": 3, "tickColor": "#8C8C8C", "domain": false, "grid": false}},
    "color": {"field": "g", "type": "nominal", "scale": {"domain": ["Non−Centenarian", "Centenarian"], "range": ["#37474F", "#EB8A2C"]}, "legend": {"orient": "bottom-left", "offset": 2, "padding": 0, "title": null, "symbolType": "circle", "symbolSize": 8, "labelFontSize": 7.9, "rowPadding": 0, "labelOffset": 2, "encode": {"labels": {"update": {"fill": {"signal": "datum.value === 'Centenarian' ? '#EB8A2C' : '#37474F'"}}}}}}}},
  {"data": {"name": "ell"}, "transform": [{"filter": "datum.g === 'Non−Centenarian'"}], "mark": {"type": "line", "interpolate": "cardinal-closed", "fill": "#37474F", "fillOpacity": 0.55, "stroke": "transparent", "strokeWidth": 0},
   "encoding": {"x": {"field": "x", "type": "quantitative", "axis": null}, "y": {"field": "y", "type": "quantitative", "axis": null}, "order": {"field": "i", "type": "quantitative"}}},
  {"data": {"name": "ell"}, "transform": [{"filter": "datum.g === 'Centenarian'"}], "mark": {"type": "line", "interpolate": "cardinal-closed", "fill": "#E0913A", "fillOpacity": 0.5, "stroke": "transparent", "strokeWidth": 0},
   "encoding": {"x": {"field": "x", "type": "quantitative", "axis": null}, "y": {"field": "y", "type": "quantitative", "axis": null}, "order": {"field": "i", "type": "quantitative"}}},
  {"mark": {"type": "text", "fontSize": 9.4, "color": "#1A1A1A", "text": "P=0.093 by MRPP"},
   "encoding": {"x": {"datum": -0.005, "type": "quantitative", "axis": null}, "y": {"datum": 0.425, "type": "quantitative", "axis": null}}}
 ]
}
]
}
]},
{"spacing": 0, "hconcat": [
{"width": 1, "height": 1, "data": {"values": []}, "mark": {"type": "point", "opacity": 0}},
{
"title": {"text": "D", "anchor": "start", "fontSize": 18, "fontWeight": "bold", "color": "#000000", "offset": -5, "dx": 6},
"spacing": 4,
"hconcat": [
{
 "width": 198, "height": 369,
 "view": {"fill": "#EBEBEB", "stroke": null},
 "data": {"name": "dbars"},
 "transform": [{"filter": "datum.group === 'Non−Centenarian'"}, {"flatten": ["v"]}, {"window": [{"op": "row_number", "as": "k"}], "groupby": ["s"]}, {"lookup": "k", "from": {"data": {"name": "cats"}, "key": "k", "fields": ["name"]}}],
 "resolve": {"axis": {"y": "independent"}},
 "layer": [
  {"mark": {"type": "bar", "width": {"band": 0.93}},
   "encoding": {
    "x": {"field": "s", "type": "nominal", "scale": {"paddingInner": 0, "paddingOuter": 0}, "axis": {"title": null, "labels": false, "ticks": true, "tickSize": 3, "tickColor": "#333333", "domain": false, "grid": true, "gridColor": "#FFFFFF", "gridWidth": 0.9}},
    "y": {"field": "v", "type": "quantitative", "stack": "normalize", "scale": {"domain": [-0.0463, 1.0926], "nice": false, "zero": false}, "axis": {"title": "value", "titleFontSize": 8.5, "titleFontWeight": "normal", "titleColor": "#1A1A1A", "titlePadding": 0, "values": [0, 0.125, 0.25, 0.375, 0.5, 0.625, 0.75, 0.875, 1], "labelExpr": "(datum.value * 4) % 1 === 0 ? format(datum.value, '.2f') : ''", "labelFontSize": 6.9, "labelColor": "#4D4D4D", "labelPadding": 1.5, "tickSize": 3, "tickColor": "#333333", "tickOpacity": {"condition": {"test": "(datum.value * 4) % 1 === 0", "value": 1}, "value": 0}, "domain": false, "grid": true, "gridColor": "#FFFFFF", "gridWidth": {"condition": {"test": "(datum.value * 4) % 1 === 0", "value": 1}, "value": 0.5}}},
    "color": {"field": "name", "type": "nominal",
     "scale": {"domain": ["Two−component system","ABC transporters","Ribosome","Aminoacyl−tRNA biosynthesis","Purine metabolism","Homologous recombination","RNA degradation","Porphyrin and chlorophyll metabolism","Pyrimidine metabolism","Starch and sucrose metabolism","Amino sugar and nucleotide sugar metabolism","Peptidoglycan biosynthesis","Quorum sensing","Cysteine and methionine metabolism","Oxidative phosphorylation","Homologous recombination, Mismatch repair, DNA replication","Cell cycle − Caulobacter","Phenylalanine tyrosine and tryptophan biosynthesis","Lipopolysaccharide biosynthesis","Glycerophospholipid metabolism","Quorum sensing, Bacterial secretion system, Protein export","Nicotinate and nicotinamide metabolism","Thiamine metabolism","Bacterial secretion system","Terpenoid backbone biosynthesis","Quorum sensing, Two−component system","Mismatch repair","Histidine metabolism","Photosynthesis, Oxidative phosphorylation","Quorum sensing, ABC transporters","Folate biosynthesis","Pentose and glucuronate interconversions","Flagellar assembly","Other glycan degradation, Sphingolipid metabolism, Galactose metabolism","Riboflavin metabolism","Base excision repair","Nucleotide excision repair","Pantothenate and CoA biosynthesis","Phenylpropanoid biosynthesis, Cyanoamino acid metabolism, Starch and sucrose metabolism","DNA replication","other"],
      "range": ["#E41A1C","#377EB8","#4DAF4A","#984EA3","#FF7F00","#FFFF33","#F781BF","#C0BC30","#66C2A5","#FC8D62","#8DA0CB","#E78AC3","#A6D854","#FFD92F","#E5C494","#35ADA5","#FF6C91","#C29E00","#00BA50","#00B5E5","#C77CFF","#7F1010","#1F4E79","#2D6A2D","#5C2C5E","#A34A00","#A3A020","#A04A7F","#7A7320","#3B7B6B","#A0533A","#5A6A8F","#8A4E7E","#6A8A3A","#9E8224","#8C7A5A","#216C64","#A23E55","#6E5600","#00753A","#A97777"]},
     "legend": {"orient": "none", "legendX": 419, "legendY": 1, "title": null, "values": ["Two−component system","ABC transporters","Ribosome","Aminoacyl−tRNA biosynthesis","Purine metabolism","Homologous recombination","RNA degradation","Porphyrin and chlorophyll metabolism","Pyrimidine metabolism","Starch and sucrose metabolism","Amino sugar and nucleotide sugar metabolism","Peptidoglycan biosynthesis","Quorum sensing","Cysteine and methionine metabolism","Oxidative phosphorylation","Homologous recombination, Mismatch repair, DNA replication","Cell cycle − Caulobacter","Phenylalanine tyrosine and tryptophan biosynthesis","Lipopolysaccharide biosynthesis","Glycerophospholipid metabolism","Quorum sensing, Bacterial secretion system, Protein export","Nicotinate and nicotinamide metabolism","Thiamine metabolism","Bacterial secretion system","Terpenoid backbone biosynthesis"], "symbolType": "square", "symbolSize": 169, "symbolStrokeWidth": 0, "labelFontSize": 8.2, "labelColor": "#1A1A1A", "labelOffset": 10, "rowPadding": 1.8, "labelLimit": 400}},
    "order": {"field": "k", "sort": "descending"}}},
  {"transform": [{"aggregate": [{"op": "count", "as": "n"}], "groupby": ["group"]}],
   "mark": {"type": "rect", "color": "#D9D9D9"}, "encoding": {"y": {"datum": 1.0494, "type": "quantitative", "axis": null}, "y2": {"datum": 1.0926}}},
  {"transform": [{"aggregate": [{"op": "count", "as": "n"}], "groupby": ["group"]}],
   "mark": {"type": "text", "fontSize": 7.2, "color": "#1A1A1A"}, "encoding": {"y": {"datum": 1.071, "type": "quantitative", "axis": null}, "text": {"field": "group", "type": "nominal"}}},
  {"transform": [{"filter": "false"}], "mark": {"type": "bar"},
   "encoding": {"fill": {"field": "name", "type": "nominal",
    "scale": {"domain": ["Quorum sensing, Two−component system","Mismatch repair","Histidine metabolism","Photosynthesis, Oxidative phosphorylation","Quorum sensing, ABC transporters","Folate biosynthesis","Pentose and glucuronate interconversions","Flagellar assembly","Other glycan degradation, Sphingolipid metabolism, Galactose metabolism","Riboflavin metabolism","Base excision repair","Nucleotide excision repair","Pantothenate and CoA biosynthesis","Phenylpropanoid biosynthesis, Cyanoamino acid metabolism, Starch and sucrose metabolism","DNA replication"],
     "range": ["#A34A00","#A3A020","#A04A7F","#7A7320","#3B7B6B","#A0533A","#5A6A8F","#8A4E7E","#6A8A3A","#9E8224","#8C7A5A","#216C64","#A23E55","#6E5600","#00753A"]},
    "legend": {"orient": "none", "legendX": 3, "legendY": 380, "title": null, "columns": 3, "symbolType": "square", "symbolSize": 100, "labelFontSize": 6.6, "labelColor": "#1A1A1A", "labelOffset": 6, "rowPadding": 2.3, "columnPadding": 4, "labelLimit": 500}}}},
  {"transform": [{"filter": "false"}], "mark": {"type": "point", "filled": true, "color": "#A97777"},
   "encoding": {"shape": {"field": "name", "type": "nominal", "scale": {"domain": ["other"], "range": ["square"]},
    "legend": {"orient": "none", "legendX": 551, "legendY": 380, "title": null, "symbolType": "square", "symbolSize": 100, "symbolFillColor": "#A97777", "labelFontSize": 6.6, "labelColor": "#1A1A1A", "labelOffset": 6}}}}
 ]
},
{
 "width": 183, "height": 369,
 "view": {"fill": "#EBEBEB", "stroke": null},
 "data": {"name": "dbars"},
 "transform": [{"filter": "datum.group === 'Centenarian'"}, {"flatten": ["v"]}, {"window": [{"op": "row_number", "as": "k"}], "groupby": ["s"]}, {"lookup": "k", "from": {"data": {"name": "cats"}, "key": "k", "fields": ["name"]}}],
 "resolve": {"axis": {"y": "independent"}},
 "layer": [
  {"mark": {"type": "bar", "width": {"band": 0.93}},
   "encoding": {
    "x": {"field": "s", "type": "nominal", "scale": {"paddingInner": 0, "paddingOuter": 0}, "axis": {"title": null, "labels": false, "ticks": true, "tickSize": 3, "tickColor": "#333333", "domain": false, "grid": true, "gridColor": "#FFFFFF", "gridWidth": 0.9}},
    "y": {"field": "v", "type": "quantitative", "stack": "normalize", "scale": {"domain": [-0.0463, 1.0926], "nice": false, "zero": false}, "axis": {"title": null, "labels": false, "ticks": false, "values": [0, 0.125, 0.25, 0.375, 0.5, 0.625, 0.75, 0.875, 1], "domain": false, "grid": true, "gridColor": "#FFFFFF", "gridWidth": {"condition": {"test": "(datum.value * 4) % 1 === 0", "value": 1}, "value": 0.5}}},
    "color": {"field": "name", "type": "nominal",
     "scale": {"domain": ["Two−component system","ABC transporters","Ribosome","Aminoacyl−tRNA biosynthesis","Purine metabolism","Homologous recombination","RNA degradation","Porphyrin and chlorophyll metabolism","Pyrimidine metabolism","Starch and sucrose metabolism","Amino sugar and nucleotide sugar metabolism","Peptidoglycan biosynthesis","Quorum sensing","Cysteine and methionine metabolism","Oxidative phosphorylation","Homologous recombination, Mismatch repair, DNA replication","Cell cycle − Caulobacter","Phenylalanine tyrosine and tryptophan biosynthesis","Lipopolysaccharide biosynthesis","Glycerophospholipid metabolism","Quorum sensing, Bacterial secretion system, Protein export","Nicotinate and nicotinamide metabolism","Thiamine metabolism","Bacterial secretion system","Terpenoid backbone biosynthesis","Quorum sensing, Two−component system","Mismatch repair","Histidine metabolism","Photosynthesis, Oxidative phosphorylation","Quorum sensing, ABC transporters","Folate biosynthesis","Pentose and glucuronate interconversions","Flagellar assembly","Other glycan degradation, Sphingolipid metabolism, Galactose metabolism","Riboflavin metabolism","Base excision repair","Nucleotide excision repair","Pantothenate and CoA biosynthesis","Phenylpropanoid biosynthesis, Cyanoamino acid metabolism, Starch and sucrose metabolism","DNA replication","other"],
      "range": ["#E41A1C","#377EB8","#4DAF4A","#984EA3","#FF7F00","#FFFF33","#F781BF","#C0BC30","#66C2A5","#FC8D62","#8DA0CB","#E78AC3","#A6D854","#FFD92F","#E5C494","#35ADA5","#FF6C91","#C29E00","#00BA50","#00B5E5","#C77CFF","#7F1010","#1F4E79","#2D6A2D","#5C2C5E","#A34A00","#A3A020","#A04A7F","#7A7320","#3B7B6B","#A0533A","#5A6A8F","#8A4E7E","#6A8A3A","#9E8224","#8C7A5A","#216C64","#A23E55","#6E5600","#00753A","#A97777"]},
     "legend": {"orient": "none", "legendX": 419, "legendY": 1, "title": null, "values": ["Two−component system","ABC transporters","Ribosome","Aminoacyl−tRNA biosynthesis","Purine metabolism","Homologous recombination","RNA degradation","Porphyrin and chlorophyll metabolism","Pyrimidine metabolism","Starch and sucrose metabolism","Amino sugar and nucleotide sugar metabolism","Peptidoglycan biosynthesis","Quorum sensing","Cysteine and methionine metabolism","Oxidative phosphorylation","Homologous recombination, Mismatch repair, DNA replication","Cell cycle − Caulobacter","Phenylalanine tyrosine and tryptophan biosynthesis","Lipopolysaccharide biosynthesis","Glycerophospholipid metabolism","Quorum sensing, Bacterial secretion system, Protein export","Nicotinate and nicotinamide metabolism","Thiamine metabolism","Bacterial secretion system","Terpenoid backbone biosynthesis"], "symbolType": "square", "symbolSize": 169, "symbolStrokeWidth": 0, "labelFontSize": 8.2, "labelColor": "#1A1A1A", "labelOffset": 10, "rowPadding": 1.8, "labelLimit": 400}},
    "order": {"field": "k", "sort": "descending"}}},
  {"transform": [{"aggregate": [{"op": "count", "as": "n"}], "groupby": ["group"]}],
   "mark": {"type": "rect", "color": "#D9D9D9"}, "encoding": {"y": {"datum": 1.0494, "type": "quantitative", "axis": null}, "y2": {"datum": 1.0926}}},
  {"transform": [{"aggregate": [{"op": "count", "as": "n"}], "groupby": ["group"]}],
   "mark": {"type": "text", "fontSize": 7.2, "color": "#1A1A1A"}, "encoding": {"y": {"datum": 1.071, "type": "quantitative", "axis": null}, "text": {"field": "group", "type": "nominal"}}}
 ]
}
]
}
]}
]
}
]
}
